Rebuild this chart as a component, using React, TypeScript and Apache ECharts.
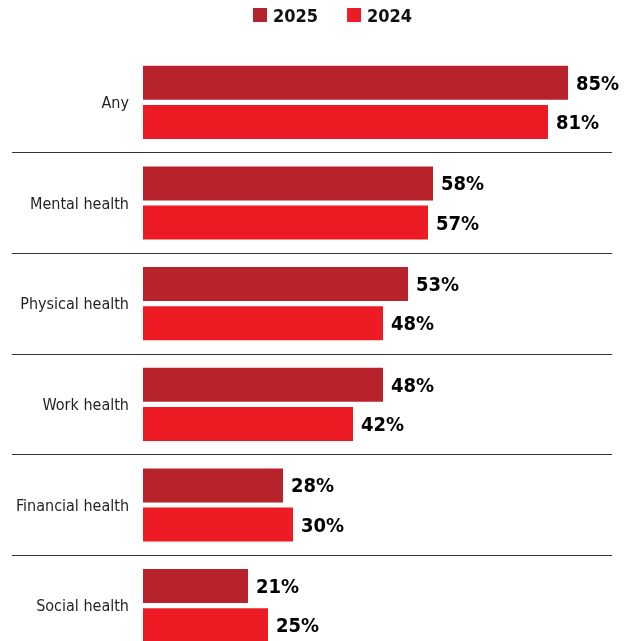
import React, { useEffect, useRef } from "react";
import * as echarts from "echarts";

const categories = ["Any", "Mental health", "Physical health", "Work health", "Financial health", "Social health"];
const values2025 = [85, 58, 53, 48, 28, 21];
const values2024 = [81, 57, 48, 42, 30, 25];
const seriesNames = ["2025", "2024"];

const COND = "'Liberation Sans Narrow', 'DejaVu Sans Condensed', 'Roboto Condensed', Roboto, sans-serif";

export default function App() {
  const ref = useRef<HTMLDivElement>(null);
  useEffect(() => {
    if (!ref.current) return;
    const chart = echarts.init(ref.current, null, { renderer: "svg" });
    const labelStyle = {
      show: true,
      position: "right",
      distance: 8,
      formatter: "{c}%",
      fontFamily: COND,
      fontWeight: "bold",
      fontSize: 20,
      color: "#000",
    };
    chart.setOption({
      animation: false,
      legend: {
        top: 6,
        left: 253,
        padding: 0,
        icon: "rect",
        itemWidth: 14,
        itemHeight: 14,
        itemGap: 29,
        data: seriesNames,
        textStyle: { fontFamily: COND, fontWeight: "bold", fontSize: 18, color: "#111", padding: [0, 0, 0, 1] },
      },
      grid: [
        { left: 143, width: 500, top: 52, height: 604, outerBoundsMode: "none", containLabel: false },
        { left: 12, width: 600, top: 52, height: 604, outerBoundsMode: "none", containLabel: false },
      ],
      xAxis: [
        { type: "value", gridIndex: 0, min: 0, max: 100, show: false },
        { type: "value", gridIndex: 1, min: 0, max: 100, show: false },
      ],
      yAxis: [
        {
          type: "category",
          gridIndex: 0,
          data: categories,
          inverse: true,
          axisLine: { show: false },
          axisTick: { show: false },
          splitLine: { show: false },
          axisLabel: { fontFamily: COND, fontSize: 16, color: "#231f20", margin: 14 },
        },
        {
          type: "category",
          gridIndex: 1,
          data: categories,
          inverse: true,
          axisLine: { show: false },
          axisTick: { show: false },
          axisLabel: { show: false },
          splitLine: {
            show: true,
            showMinLine: false,
            showMaxLine: false,
            interval: 0,
            lineStyle: { color: "#333", width: 1 },
          },
        },
      ],
      series: [
        {
          name: seriesNames[0],
          type: "bar",
          data: values2025,
          barWidth: 34,
          barGap: "15%",
          itemStyle: { color: "#b8232b" },
          label: labelStyle,
        },
        {
          name: seriesNames[1],
          type: "bar",
          data: values2024,
          barWidth: 34,
          barGap: "15%",
          itemStyle: { color: "#ed1c24" },
          label: labelStyle,
        },
      ],
    });
    return () => chart.dispose();
  }, []);
  return <div ref={ref} style={{ position: "fixed", left: 0, top: 0, width: 631, height: 641 }} />;
}
